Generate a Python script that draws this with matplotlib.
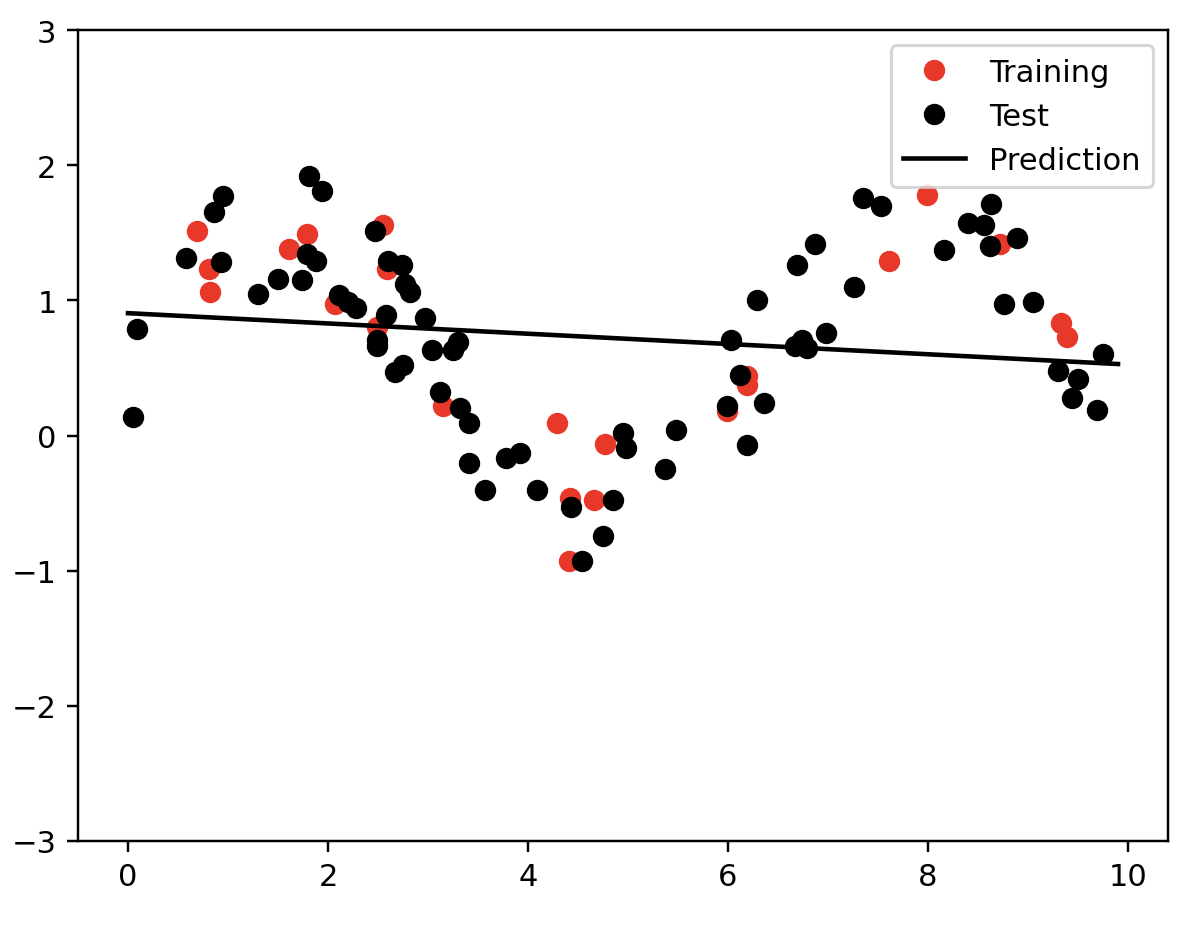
import numpy as np
import matplotlib
matplotlib.use("Agg")
import matplotlib.pyplot as plt

# training points (red)
x_train = [0.69, 0.81, 0.82, 1.61, 1.79, 2.07, 2.55, 2.59, 2.49, 3.15, 4.29,
           4.42, 4.41, 4.66, 4.77, 5.99, 6.19, 6.19, 7.61, 7.99, 8.72, 9.33, 9.39]
y_train = [1.51, 1.23, 1.06, 1.38, 1.49, 0.97, 1.56, 1.23, 0.80, 0.22, 0.09,
           -0.46, -0.93, -0.48, -0.06, 0.18, 0.44, 0.37, 1.29, 1.78, 1.42, 0.83, 0.73]

# test points (black)
x_test = [0.09, 0.05, 0.58, 0.93, 0.86, 0.95, 1.30, 1.50, 1.74, 1.79, 1.88,
          1.81, 1.94, 2.11, 2.20, 2.28, 2.47, 2.60, 2.74, 2.58, 2.49, 2.49,
          2.77, 2.82, 2.97, 3.04, 3.30, 3.25, 2.67, 2.75, 3.12, 3.32, 3.41,
          3.41, 3.57, 3.78, 3.92, 4.09, 4.43, 4.54, 4.85, 4.75, 4.95, 4.98,
          5.37, 5.48, 6.19, 5.99, 6.36, 6.12, 6.03, 6.29, 6.67, 6.74, 6.79,
          6.98, 6.69, 6.87, 7.26, 7.35, 7.53, 8.16, 8.40, 8.56, 8.63, 8.62,
          8.89, 8.76, 9.05, 9.75, 9.30, 9.50, 9.44, 9.69]
y_test = [0.79, 0.14, 1.31, 1.28, 1.65, 1.77, 1.05, 1.16, 1.15, 1.34, 1.29,
          1.92, 1.81, 1.04, 0.99, 0.94, 1.51, 1.29, 1.26, 0.89, 0.71, 0.66,
          1.12, 1.06, 0.87, 0.63, 0.69, 0.63, 0.47, 0.52, 0.32, 0.20, 0.09,
          -0.20, -0.40, -0.17, -0.13, -0.40, -0.53, -0.93, -0.48, -0.74, 0.02, -0.09,
          -0.25, 0.04, -0.07, 0.22, 0.24, 0.45, 0.71, 1.00, 0.66, 0.71, 0.65,
          0.76, 1.26, 1.42, 1.10, 1.76, 1.70, 1.37, 1.57, 1.56, 1.71, 1.40,
          1.46, 0.97, 0.99, 0.60, 0.48, 0.42, 0.28, 0.19]

# fitted line: intercept and slope
x_pred = np.arange(0, 10, 0.1)
intercept = 0.905
slope = -0.038

fig = plt.figure(figsize=(1188 / 220, 934 / 220), dpi=220)
ax = fig.add_axes([78 / 1188, 1 - 842 / 934, 1090 / 1188, 811 / 934])

ax.plot(x_train, y_train, "o", color="#e8382a", label="Training")
ax.plot(x_test, y_test, "o", color="black", label="Test")
ax.plot(x_pred, intercept + slope * x_pred, color="black", label="Prediction")

ax.set_xlim(-0.5, 10.4)
ax.set_ylim(-3, 3)
ax.legend(loc="upper right")

fig.savefig("out.png", dpi=220)
